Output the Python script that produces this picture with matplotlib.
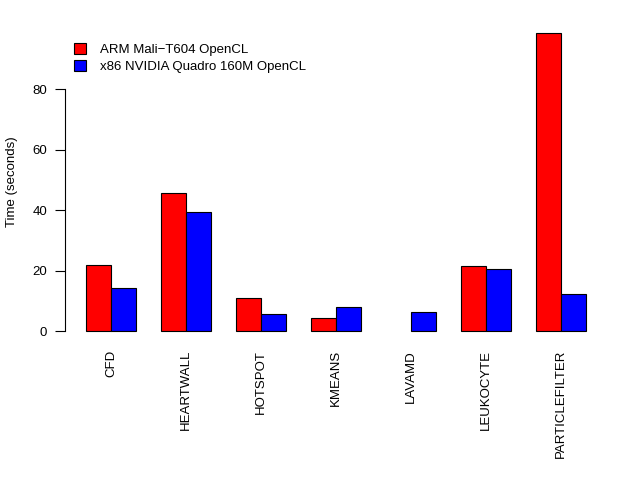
import matplotlib
matplotlib.use("Agg")
import matplotlib.pyplot as plt
import numpy as np

benchmarks = ["CFD", "HEARTWALL", "HOTSPOT", "KMEANS", "LAVAMD",
              "LEUKOCYTE", "PARTICLEFILTER"]
# LAVAMD has no ARM result (bar absent in the chart)
arm_mali = [21.8, 45.8, 10.8, 4.2, np.nan, 21.6, 98.4]
x86_quadro = [14.1, 39.5, 5.5, 8.0, 6.4, 20.4, 12.1]
series_names = ["ARM Mali\u2212T604 OpenCL", "x86 NVIDIA Quadro 160M OpenCL"]

plt.rcParams["font.family"] = ["Liberation Sans", "DejaVu Sans"]
FS = 9.5

W, H = 640, 480
fig = plt.figure(figsize=(W / 100, H / 100), dpi=100)
ax = fig.add_axes([65 / W, (H - 343) / H, (632 - 65) / W, (343 - 21.5) / H])

# R barplot(beside=TRUE) layout: bar width 1, one unit gap before each group
n = len(benchmarks)
red_left = np.arange(n) * 3 + 1
ax.bar(red_left, arm_mali, width=1, align="edge", color="#ff0000",
       edgecolor="black", linewidth=0.8, label=series_names[0])
ax.bar(red_left + 1, x86_quadro, width=1, align="edge", color="#0000ff",
       edgecolor="black", linewidth=0.8, label=series_names[1])

top = np.nanmax(arm_mali + x86_quadro)
ax.set_xlim(1 - 0.04 * 21, 22 + 0.04 * 21)
ax.set_ylim(-0.04 * top, top * 1.04)

for s in ["top", "right", "bottom"]:
    ax.spines[s].set_visible(False)
ax.spines["left"].set_bounds(0, 80)
ax.spines["left"].set_linewidth(0.8)
ax.set_yticks([0, 20, 40, 60, 80])
ax.tick_params(axis="y", labelsize=FS, length=7, width=0.8, pad=6)
ax.set_xticks(red_left + 1)
ax.set_xticklabels(benchmarks, rotation=90, fontsize=FS, va="top")
ax.tick_params(axis="x", length=0, pad=5)

fig.text(12 / W, 1 - 182 / H, "Time (seconds)", rotation=90,
         ha="center", va="center", fontsize=FS)

ax.legend(loc="upper left", bbox_to_anchor=(74 / W, 1 - 43 / H),
          bbox_transform=fig.transFigure, frameon=False, fontsize=FS,
          handlelength=0.9, handleheight=0.9, handletextpad=1.1,
          labelspacing=0.3, borderaxespad=0, borderpad=0)

fig.savefig("out.png", dpi=100)
